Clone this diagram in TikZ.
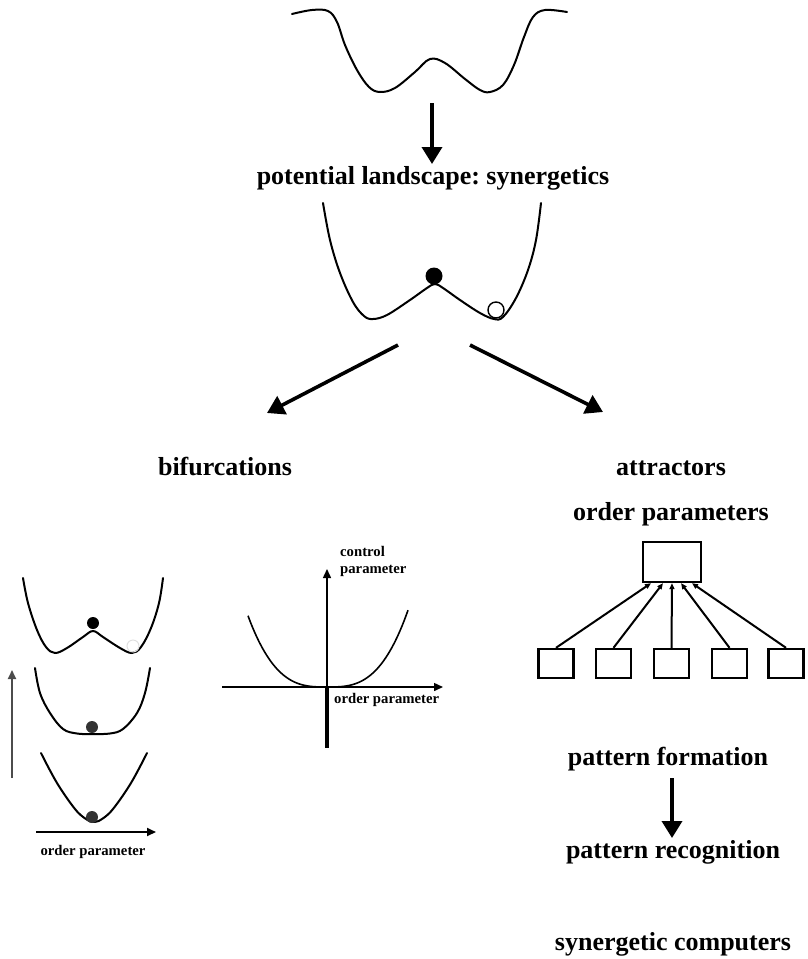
\documentclass[tikz,border=0pt]{standalone}
\usepackage{fontspec}
\setmainfont{Liberation Serif}
\usetikzlibrary{arrows.meta}
\frenchspacing
\begin{document}
\begin{tikzpicture}[x=1pt,y=-1pt,
  title/.style={font=\fontsize{26}{30}\selectfont\bfseries, anchor=base, inner sep=0pt},
  small/.style={font=\fontsize{14.7}{18}\selectfont\bfseries, inner sep=0pt},
  curve/.style={line width=2pt, line join=round, line cap=round},
  bigarrow/.style={line width=3.6pt, -{Triangle[length=17pt,width=20pt]}},
  thinarrow/.style={line width=1.8pt, -{Triangle[length=9pt,width=8pt]}},
  axis/.style={line width=1.5pt, -{Triangle[length=9pt,width=8pt]}},
  box/.style={draw, line width=2.4pt, inner sep=0pt},
  feed/.style={line width=2pt, -{Triangle[length=6pt,width=5pt]}},
  ball/.style={fill=black},
]
\useasboundingbox (0,0) rectangle (807,959);

% ---- symmetric double well at the top
\draw[curve] plot[smooth, tension=0.6] coordinates {
  (292,14) (312,10) (328,11) (337,22) (345,45) (357,70) (369,87) (380,92)
  (395,88) (415,72) (430,59) (445,63) (465,79) (480,90) (490,92)
  (503,85) (514,65) (524,37) (533,17) (545,10) (567,12)};

\coordinate (a0s) at (432,103);
\coordinate (a0e) at (432,164);
\draw[bigarrow] (a0s) -- (a0e);

\node[title] (pot) at (433,184) {potential landscape: synergetics};

% ---- tilted landscape with the two balls
\draw[curve] plot[smooth, tension=0.6] coordinates {
  (323,203) (330,240) (340,273) (353,302) (364,316) (373,319) (387,315)
  (410,300) (427,288) (435,284) (443,288) (460,300) (480,313) (494,319)
  (503,317) (516,298) (528,270) (536,240) (541,203)};
\node[ball, circle, minimum size=17pt, inner sep=0pt] (full) at (434,276) {};
\node[draw, fill=white, circle, line width=1.4pt, minimum size=16pt, inner sep=0pt] (empty) at (496,310) {};

% ---- branching arrows
\coordinate (lbs) at (398,345);
\coordinate (lbe) at (267,413);
\coordinate (rbs) at (470,345);
\coordinate (rbe) at (603,412);
\draw[bigarrow] (lbs) -- (lbe);
\draw[bigarrow] (rbs) -- (rbe);

\node[title] (bif) at (225,475) {bifurcations};
\node[title] (att) at (671,475) {attractors};
\node[title] (ord) at (671,520) {order parameters};

% ---- stack of potentials on the left
\draw[curve] plot[smooth, tension=0.6] coordinates {
  (23,578) (28,603) (37,630) (46,647) (55,653) (67,648) (83,637) (93,631)
  (103,637) (120,648) (132,653) (141,647) (151,628) (159,603) (163,578)};
\node[ball, circle, minimum size=12pt, inner sep=0pt] (b1) at (93,623) {};
\node[draw=black!12, line width=1pt, circle, minimum size=12pt, inner sep=0pt] (g1) at (133,646) {};

\draw[curve] plot[smooth, tension=0.6] coordinates {
  (35,668) (40,693) (50,713) (63,729) (77,733.5) (92,734) (110,733.5)
  (123,729) (137,713) (145,693) (150,668)};
\node[fill=black!80, circle, minimum size=12pt, inner sep=0pt] (b2) at (92,727) {};

\draw[curve] plot[smooth, tension=0.6] coordinates {
  (41,753) (57,783) (75,809) (86,819) (94,822) (102,819) (113,809) (131,783) (147,753)};
\node[fill=black!80, circle, minimum size=12pt, inner sep=0pt] (b3) at (92,817) {};

\coordinate (cps) at (12,778);
\coordinate (cpe) at (12,670);
\draw[thinarrow, draw=black!70, fill=black!70] (cps) -- (cpe);
\coordinate (ops) at (36,832);
\coordinate (ope) at (156,832);
\draw[thinarrow] (ops) -- (ope);
\node[small] (opl) at (93,852) {order parameter};

% ---- bifurcation diagram
\coordinate (org) at (327,687);
\coordinate (hxs) at (222,687);
\coordinate (hxe) at (443,687);
\coordinate (vxe) at (327,569);
\coordinate (vxs) at (327,748);
\draw[axis] (hxs) -- (hxe);
\draw[axis] (org) -- (vxe);
\draw[line width=4.5pt] (org) -- (vxs);
\draw[line width=1.6pt] plot[domain=-79:81, samples=80, smooth]
  (327+\x, {687-74*abs(\x/80)^3});
\node[small, anchor=base west, align=left] (cpl) at (340,573) {control\\[-1pt]parameter};
\node[small, anchor=base west] (opx) at (334,703) {order parameter};

% ---- order parameter enslaving the modes
\node[box, minimum width=58pt, minimum height=40pt] (top) at (672,562) {};
\foreach \i/\x in {1/556,2/613.5,3/671.5,4/729.5,5/786}
  \node[box, minimum width=35pt, minimum height=29pt] (m\i) at (\x,663.5) {};
\draw[feed] (m1.north) -- ([xshift=-21pt]top.south);
\draw[feed] (m2.north) -- ([xshift=-9pt]top.south);
\draw[feed] (m3.north) -- (top.south);
\draw[feed] (m4.north) -- ([xshift=9pt]top.south);
\draw[feed] (m5.north) -- ([xshift=20pt]top.south);

% ---- pattern formation and recognition
\node[title] (pf) at (668,765) {pattern formation};
\coordinate (pas) at (672,778);
\coordinate (pae) at (672,838);
\draw[bigarrow] (pas) -- (pae);
\node[title] (pr) at (673,858) {pattern recognition};
\node[title] (sc) at (673,950) {synergetic computers};
\end{tikzpicture}
\end{document}
